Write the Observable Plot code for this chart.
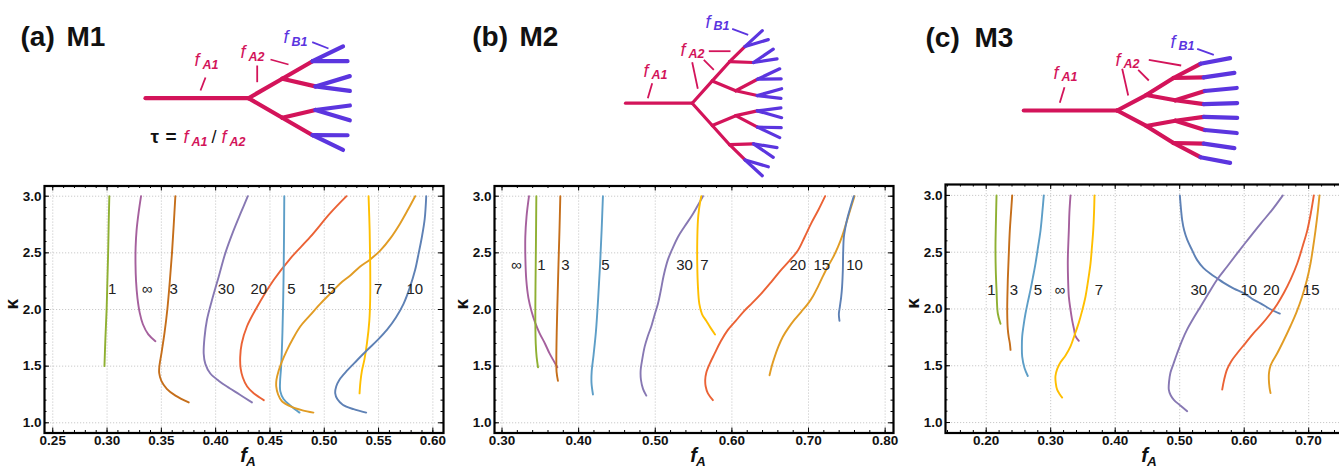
<!DOCTYPE html>
<html><head><meta charset="utf-8">
<script src="https://cdn.jsdelivr.net/npm/d3@7"></script>
<script src="https://cdn.jsdelivr.net/npm/@observablehq/plot@0.6"></script>
<style>
html,body{margin:0;padding:0;background:#fff;}
#root{position:relative;width:1339px;height:471px;overflow:hidden;font-family:"Liberation Sans",Arial,sans-serif;}
#root > div{position:absolute;}
#root svg{max-width:none !important;}
</style></head><body><div id="root"></div>
<script>
// ---------- data: tau values and colours ----------
const tauKeys = ["1","3","5","7","10","15","20","30","∞"];
const tauColors = ["#8FB032","#C56E1A","#5D9EC7","#FFBF00","#5E81B5","#E19C24","#EB6235","#8778B3","#A5609D"];

// ---------- M1 curves: [fA, kappa] ----------
const M1_t1 = [[0.3021,3.0],[0.3015,2.75],[0.3010,2.5],[0.3003,2.25],[0.2996,2.0],[0.2985,1.75],[0.2976,1.5]];
const M1_tInf = [[0.3313,3.0],[0.3290,2.85],[0.3272,2.7],[0.3263,2.55],[0.3262,2.4],[0.3267,2.25],[0.3280,2.1],[0.3301,1.97],[0.3330,1.87],[0.3380,1.78],[0.3445,1.72]];
const M1_t3 = [[0.3629,3.0],[0.3614,2.75],[0.3598,2.5],[0.3578,2.25],[0.3555,2.0],[0.3530,1.8],[0.3502,1.62],[0.3482,1.5],[0.3480,1.44],[0.3500,1.37],[0.3550,1.30],[0.3630,1.24],[0.3752,1.18]];
const M1_t30 = [[0.4296,3.0],[0.4230,2.85],[0.4166,2.7],[0.4090,2.5],[0.4028,2.29],[0.3965,2.08],[0.3920,1.91],[0.3897,1.75],[0.3890,1.61],[0.3905,1.52],[0.3951,1.435],[0.4030,1.37],[0.4104,1.32],[0.4220,1.25],[0.4334,1.18]];
const M1_t20 = [[0.5205,3.0],[0.5055,2.85],[0.4871,2.64],[0.4687,2.45],[0.4534,2.26],[0.4380,2.02],[0.4288,1.85],[0.4240,1.70],[0.4226,1.58],[0.4230,1.48],[0.4250,1.40],[0.4290,1.32],[0.4350,1.26],[0.4443,1.20]];
const M1_t5 = [[0.4632,3.0],[0.4629,2.6],[0.4624,2.2],[0.4615,1.8],[0.4603,1.5],[0.4593,1.36],[0.4595,1.28],[0.4625,1.21],[0.4690,1.15],[0.4772,1.09]];
const M1_t15 = [[0.5837,3.0],[0.5770,2.88],[0.5699,2.76],[0.5610,2.63],[0.5515,2.52],[0.5420,2.44],[0.5331,2.38],[0.5240,2.30],[0.5147,2.23],[0.5055,2.14],[0.4963,2.05],[0.4870,1.95],[0.4779,1.85],[0.4710,1.74],[0.4656,1.64],[0.4610,1.54],[0.4580,1.46],[0.4560,1.38],[0.4558,1.32],[0.4575,1.25],[0.4610,1.19],[0.4700,1.14],[0.4800,1.11],[0.4900,1.09]];
const M1_t7 = [[0.5408,3.0],[0.5418,2.7],[0.5423,2.4],[0.5423,2.1],[0.5415,1.9],[0.5393,1.70],[0.5370,1.56],[0.5347,1.46],[0.5333,1.36],[0.5325,1.26]];
const M1_t10 = [[0.5939,3.0],[0.5925,2.8],[0.5899,2.64],[0.5870,2.5],[0.5837,2.35],[0.5790,2.2],[0.5730,2.05],[0.5660,1.93],[0.5577,1.82],[0.5490,1.73],[0.5393,1.64],[0.5300,1.55],[0.5209,1.46],[0.5140,1.38],[0.5110,1.32],[0.5101,1.26],[0.5120,1.21],[0.5170,1.16],[0.5270,1.12],[0.5386,1.09]];
const M1_labels = ["1","∞","3","30","20","5","15","7","10"];
const M1_labelX = [0.3047,0.3369,0.3614,0.4097,0.4397,0.4698,0.5027,0.5496,0.5833];
const M1_labelK = 2.176;

// ---------- M2 curves ----------
const M2_tInf = [[0.3352,3.0],[0.3320,2.82],[0.3304,2.64],[0.3305,2.45],[0.3317,2.26],[0.3345,2.10],[0.3383,1.99],[0.3435,1.88],[0.3491,1.79],[0.3560,1.70],[0.3622,1.61],[0.3680,1.54],[0.3722,1.49]];
const M2_t1 = [[0.3448,3.0],[0.3443,2.6],[0.3437,2.2],[0.3435,1.9],[0.3440,1.7],[0.3452,1.58],[0.3470,1.49]];
const M2_t3 = [[0.3761,3.0],[0.3750,2.7],[0.3737,2.4],[0.3725,2.1],[0.3714,1.8],[0.3709,1.55],[0.3712,1.45],[0.3730,1.37]];
const M2_t5 = [[0.4317,3.0],[0.4300,2.7],[0.4280,2.4],[0.4255,2.1],[0.4225,1.8],[0.4195,1.6],[0.4170,1.45],[0.4168,1.35],[0.4187,1.25]];
const M2_t30 = [[0.5622,3.0],[0.5540,2.9],[0.5470,2.82],[0.5380,2.73],[0.5296,2.64],[0.5220,2.53],[0.5165,2.44],[0.5110,2.30],[0.5070,2.16],[0.5035,2.05],[0.4990,1.95],[0.4948,1.85],[0.4900,1.76],[0.4861,1.67],[0.4830,1.56],[0.4809,1.46],[0.4813,1.38],[0.4840,1.30],[0.4883,1.24]];
const M2_t7 = [[0.5600,3.0],[0.5570,2.88],[0.5557,2.79],[0.5548,2.6],[0.5548,2.4],[0.5557,2.2],[0.5575,2.05],[0.5610,1.96],[0.5665,1.90],[0.5720,1.84],[0.5780,1.78]];
const M2_t20 = [[0.7217,3.0],[0.7130,2.88],[0.7035,2.76],[0.6950,2.64],[0.6861,2.52],[0.6750,2.43],[0.6643,2.35],[0.6510,2.24],[0.6383,2.14],[0.6270,2.06],[0.6165,1.99],[0.6050,1.90],[0.5948,1.82],[0.5855,1.72],[0.5774,1.61],[0.5710,1.52],[0.5665,1.44],[0.5652,1.38],[0.5658,1.32],[0.5687,1.26],[0.5752,1.20]];
const M2_t15 = [[0.7600,3.0],[0.7545,2.88],[0.7491,2.76],[0.7440,2.65],[0.7383,2.55],[0.7320,2.46],[0.7252,2.38],[0.7185,2.29],[0.7122,2.20],[0.7060,2.12],[0.6991,2.05],[0.6905,1.98],[0.6817,1.91],[0.6740,1.84],[0.6665,1.76],[0.6605,1.67],[0.6557,1.58],[0.6520,1.50],[0.6491,1.42]];
const M2_t10 = [[0.7591,3.0],[0.7550,2.91],[0.7513,2.82],[0.7480,2.72],[0.7461,2.64],[0.7452,2.5],[0.7448,2.35],[0.7438,2.2],[0.7426,2.11],[0.7410,2.03],[0.7396,1.96],[0.7404,1.90]];
const M2_labels = ["∞","1","3","5","30","7","20","15","10"];
const M2_labelX = [0.3187,0.3513,0.3826,0.4348,0.5383,0.5643,0.6861,0.7174,0.7600];
const M2_labelK = 2.388;

// ---------- M3 curves ----------
const M3_t1 = [[0.2160,3.0],[0.2150,2.75],[0.2144,2.55],[0.2148,2.35],[0.2160,2.17],[0.2180,1.96],[0.2222,1.87]];
const M3_t3 = [[0.2403,3.0],[0.2385,2.85],[0.2366,2.69],[0.2348,2.45],[0.2335,2.26],[0.2328,2.1],[0.2326,1.96],[0.2335,1.82],[0.2350,1.75],[0.2366,1.70],[0.2377,1.64]];
const M3_t5 = [[0.2893,3.0],[0.2870,2.85],[0.2842,2.69],[0.2805,2.55],[0.2764,2.40],[0.2725,2.28],[0.2687,2.17],[0.2645,2.06],[0.2609,1.96],[0.2578,1.85],[0.2558,1.76],[0.2553,1.66],[0.2558,1.58],[0.2594,1.48],[0.2645,1.41]];
const M3_tInf = [[0.3307,3.0],[0.3290,2.85],[0.3281,2.69],[0.3268,2.5],[0.3265,2.40],[0.3270,2.25],[0.3281,2.11],[0.3305,2.0],[0.3333,1.90],[0.3362,1.82],[0.3384,1.76],[0.3436,1.72]];
const M3_t7 = [[0.3679,3.0],[0.3672,2.85],[0.3659,2.69],[0.3640,2.55],[0.3617,2.40],[0.3580,2.25],[0.3540,2.11],[0.3490,1.99],[0.3436,1.88],[0.3370,1.77],[0.3307,1.67],[0.3230,1.59],[0.3152,1.53],[0.3100,1.47],[0.3074,1.41],[0.3078,1.35],[0.3100,1.29],[0.3140,1.25],[0.3178,1.22]];
const M3_t10 = [[0.5002,3.0],[0.5020,2.88],[0.5039,2.78],[0.5070,2.69],[0.5116,2.61],[0.5190,2.52],[0.5271,2.43],[0.5370,2.36],[0.5478,2.31],[0.5580,2.27],[0.5684,2.23],[0.5840,2.18],[0.5994,2.14],[0.6120,2.09],[0.6253,2.05],[0.6400,2.00],[0.6552,1.96]];
const M3_t30 = [[0.6599,3.0],[0.6430,2.87],[0.6253,2.75],[0.6070,2.62],[0.5891,2.49],[0.5730,2.37],[0.5581,2.26],[0.5450,2.14],[0.5322,2.02],[0.5215,1.92],[0.5116,1.82],[0.5035,1.72],[0.4961,1.61],[0.4905,1.52],[0.4857,1.44],[0.4835,1.36],[0.4831,1.29],[0.4860,1.24],[0.4909,1.20],[0.5010,1.15],[0.5116,1.10]];
const M3_t20 = [[0.7079,3.0],[0.7035,2.85],[0.6977,2.69],[0.6905,2.55],[0.6822,2.40],[0.6720,2.26],[0.6614,2.14],[0.6510,2.04],[0.6408,1.96],[0.6280,1.87],[0.6149,1.79],[0.6020,1.70],[0.5891,1.61],[0.5800,1.54],[0.5736,1.47],[0.5690,1.38],[0.5659,1.29]];
const M3_t15 = [[0.7167,3.0],[0.7140,2.85],[0.7105,2.69],[0.7070,2.55],[0.7028,2.40],[0.6970,2.25],[0.6899,2.11],[0.6810,1.97],[0.6718,1.85],[0.6610,1.72],[0.6512,1.61],[0.6440,1.54],[0.6408,1.50],[0.6385,1.44],[0.6382,1.38],[0.6392,1.31],[0.6408,1.26]];
const M3_labels = ["1","3","5","∞","7","30","10","20","15"];
const M3_labelX = [0.2082,0.2428,0.2800,0.3141,0.3746,0.5296,0.6071,0.6419,0.7039];
const M3_labelK = 2.167;

// ---------- tick values ----------
const M1_xTicks = [0.25,0.30,0.35,0.40,0.45,0.50,0.55,0.60];
const M2_xTicks = [0.30,0.40,0.50,0.60,0.70,0.80];
const M3_xTicks = [0.20,0.30,0.40,0.50,0.60,0.70];
const yTicks = [1.0,1.5,2.0,2.5,3.0];

// ---------- rendering ----------
const RED = "#D3145A", BLUE = "#5B35DF";
const FONT = "'Liberation Sans', Arial, sans-serif";
const root = document.getElementById("root");
const colorOf = k => tauColors[tauKeys.indexOf(k)];
const H = 301;

function chart(cfg) {
  const fw = cfg.width - cfg.ml - cfg.mr, fh = H - cfg.mt - cfg.mb;
  const xMinor = d3.range(Math.ceil(cfg.xd[0] / cfg.minor - 1e-6), Math.floor(cfg.xd[1] / cfg.minor + 1e-6) + 1).map(i => +(i * cfg.minor).toFixed(4));
  const yMinor = d3.range(10, 31).map(i => i / 10);
  const grid = {stroke: "#c4c4c4", strokeWidth: 0.9, strokeDasharray: "1.2,1.8"};
  const marks = [
    Plot.ruleX(cfg.xTicks, {x: d => d, ...grid}),
    Plot.ruleY(yTicks, {y: d => d, ...grid}),
  ];
  for (const s of cfg.series) {
    marks.push(Plot.line(s.pts, {x: d => d[0], y: d => d[1], stroke: colorOf(s.tau), strokeWidth: 1.9, curve: "catmull-rom"}));
  }
  marks.push(Plot.text(cfg.labels, {x: (d, i) => cfg.labelX[i], y: () => cfg.labelK, text: d => d, fontSize: 15, fill: "#222", fontFamily: FONT}));
  const tk = {stroke: "black", strokeWidth: 1};
  marks.push(
    Plot.ruleX(xMinor, {x: d => d, insetTop: fh - 2.5, ...tk}),
    Plot.ruleX(xMinor, {x: d => d, insetBottom: fh - 2.5, ...tk}),
    Plot.ruleX(cfg.xTicks, {x: d => d, insetTop: fh - 5, ...tk}),
    Plot.ruleX(cfg.xTicks, {x: d => d, insetBottom: fh - 5, ...tk}),
    Plot.ruleY(yMinor, {y: d => d, insetRight: fw - 2.5, ...tk}),
    Plot.ruleY(yMinor, {y: d => d, insetLeft: fw - 2.5, ...tk}),
    Plot.ruleY(yTicks, {y: d => d, insetRight: fw - 5, ...tk}),
    Plot.ruleY(yTicks, {y: d => d, insetLeft: fw - 5, ...tk}),
    Plot.frame({stroke: "black", strokeWidth: 2.2}),
    Plot.text(cfg.xTicks, {x: d => d, frameAnchor: "bottom", dy: 11.5, text: d => d.toFixed(2), fontSize: 13.5, fontWeight: "bold", fill: "#111", fontFamily: FONT}),
    Plot.text(yTicks, {y: d => d, frameAnchor: "left", dx: -3, textAnchor: "end", text: d => d.toFixed(1), fontSize: 13.5, fontWeight: "bold", fill: "#111", fontFamily: FONT}),
    Plot.text(["κ"], {frameAnchor: "left", dx: -33, rotate: -90, fontSize: 19, fontWeight: "bold", fill: "#111", fontFamily: FONT}),
    Plot.text(["f"], {frameAnchor: "bottom", dx: 3, dy: 28.5, textAnchor: "end", fontSize: 20, fontWeight: "bold", fontStyle: "italic", fill: "#111", fontFamily: FONT}),
    Plot.text(["A"], {frameAnchor: "bottom", dx: 2, dy: 32.5, textAnchor: "start", fontSize: 13.5, fontWeight: "bold", fontStyle: "italic", fill: "#111", fontFamily: FONT})
  );
  const svg = Plot.plot({
    width: cfg.width, height: H,
    marginTop: cfg.mt, marginBottom: cfg.mb, marginLeft: cfg.ml, marginRight: cfg.mr,
    x: {domain: cfg.xd, axis: null},
    y: {domain: cfg.yd, axis: null},
    style: {background: "transparent", fontFamily: FONT, overflow: "visible", maxWidth: "none"},
    marks
  });
  const div = document.createElement("div");
  div.style.left = cfg.left + "px"; div.style.top = "170px";
  div.style.width = cfg.width + "px"; div.style.height = H + "px";
  div.appendChild(svg);
  root.appendChild(div);
}

chart({left: 0, width: 450, ml: 44, mr: 7, mt: 15.5, mb: 38.5, xd: [0.2424, 0.6098], yd: [0.91, 3.09], minor: 0.01,
  xTicks: M1_xTicks, labels: M1_labels, labelX: M1_labelX, labelK: M1_labelK,
  series: [{tau:"1",pts:M1_t1},{tau:"∞",pts:M1_tInf},{tau:"3",pts:M1_t3},{tau:"30",pts:M1_t30},{tau:"20",pts:M1_t20},{tau:"5",pts:M1_t5},{tau:"15",pts:M1_t15},{tau:"7",pts:M1_t7},{tau:"10",pts:M1_t10}]});
chart({left: 450, width: 450, ml: 44, mr: 7, mt: 15.5, mb: 38.5, xd: [0.2902, 0.8109], yd: [0.91, 3.09], minor: 0.02,
  xTicks: M2_xTicks, labels: M2_labels, labelX: M2_labelX, labelK: M2_labelK,
  series: [{tau:"∞",pts:M2_tInf},{tau:"1",pts:M2_t1},{tau:"3",pts:M2_t3},{tau:"5",pts:M2_t5},{tau:"30",pts:M2_t30},{tau:"7",pts:M2_t7},{tau:"20",pts:M2_t20},{tau:"15",pts:M2_t15},{tau:"10",pts:M2_t10}]});
chart({left: 900, width: 450, ml: 45, mr: 6, mt: 14, mb: 38.5, xd: [0.1369, 0.7555], yd: [0.908, 3.096], minor: 0.02,
  xTicks: M3_xTicks, labels: M3_labels, labelX: M3_labelX, labelK: M3_labelK,
  series: [{tau:"1",pts:M3_t1},{tau:"3",pts:M3_t3},{tau:"5",pts:M3_t5},{tau:"∞",pts:M3_tInf},{tau:"7",pts:M3_t7},{tau:"10",pts:M3_t10},{tau:"30",pts:M3_t30},{tau:"20",pts:M3_t20},{tau:"15",pts:M3_t15}]});

// ---------- header diagrams (pixel-space, identity scales) ----------
function linspace(a, b, n) { return n === 1 ? [a] : d3.range(n).map(i => a + (b - a) * i / (n - 1)); }
function buildTree(cfg) {
  const segs = [{x1: cfg.x0, y1: cfg.cy, x2: cfg.cx, y2: cfg.cy, blue: false}];
  let prev = [{x: cfg.cx, y: cfg.cy}];
  for (const g of cfg.gens) {
    const nodes = linspace(g.A, -g.A, g.n).map(a => {
      const r = g.R + g.k * Math.abs(a), t = a * Math.PI / 180;
      return {x: cfg.cx + r * Math.cos(t), y: cfg.cy - r * Math.sin(t)};
    });
    nodes.forEach((nd, j) => {
      const p = prev[Math.floor(j * prev.length / nodes.length)];
      segs.push({x1: p.x, y1: p.y, x2: nd.x, y2: nd.y, blue: !!g.blue});
    });
    prev = nodes;
  }
  return segs;
}
const trees = [
  {x0: 145, cx: 248, cy: 97.7, w: 4.2, gens: [{n:2,A:30,R:30,k:0.3},{n:4,A:30,R:65,k:0.3},{n:8,A:28.7,R:100.6,k:0.25,blue:true}]},
  {x0: 625, cx: 691.7, cy: 102.7, w: 3.2, gens: [{n:2,A:48,R:15.6,k:0.3},{n:4,A:48,R:40,k:0.33},{n:8,A:47,R:63.5,k:0.3},{n:16,A:46,R:88,k:0.28,blue:true}]},
  {x0: 1023.3, cx: 1116.7, cy: 110, w: 4.2, gens: [{n:2,A:28,R:24.5,k:0.3},{n:4,A:30,R:56,k:0.3},{n:8,A:29.3,R:85.5,k:0.34},{n:8,A:24.9,R:119.5,k:0.2,blue:true}]}
];
const leaders = [
  {c: RED, s: [205,77,200,90]}, {c: RED, s: [256.7,65,256.7,81.7]}, {c: RED, s: [270,59,288,64]}, {c: BLUE, s: [311.7,41.7,328,48]},
  {c: RED, s: [651.7,82.7,647.3,97.7]}, {c: RED, s: [691.7,61.7,697.3,88.3]}, {c: RED, s: [703.3,59.3,713.3,69.3]}, {c: RED, s: [708.3,50.7,730,50.7]}, {c: BLUE, s: [731.7,28.3,747.7,34.3]},
  {c: RED, s: [1064,86.7,1059.3,102.3]}, {c: RED, s: [1121.7,68.3,1127.7,95]}, {c: RED, s: [1137.7,69.3,1148.3,80]}, {c: RED, s: [1148.3,59.3,1180.7,65]}, {c: BLUE, s: [1196.7,48.3,1213.3,54.3]}
];
// [x, baseline, text, colour, kind]
const annos = [
  [20,45,"(a)","#111","title"],[66,45,"M1","#111","title"],
  [471.7,45,"(b)","#111","title"],[519,45,"M2","#111","title"],
  [925,46.5,"(c)","#111","title"],[974,46.5,"M3","#111","title"],
  [194,65,"f",RED,"f"],[202,68,"A1",RED,"sub"],
  [240,57,"f",RED,"f"],[248,60,"A2",RED,"sub"],
  [283,42,"f",BLUE,"f"],[291,45,"B1",BLUE,"sub"],
  [150,142,"τ","#111","op"],[165,142,"=","#111","op"],
  [183,142,"f",RED,"f"],[191,145,"A1",RED,"sub"],
  [211,142,"/","#111","slash"],
  [221,142,"f",RED,"f"],[229,145,"A2",RED,"sub"],
  [643,76,"f",RED,"f"],[651,78,"A1",RED,"sub"],
  [680,55,"f",RED,"f"],[688,57,"A2",RED,"sub"],
  [705,27,"f",BLUE,"f"],[713,29,"B1",BLUE,"sub"],
  [1053,78,"f",RED,"f"],[1061,80,"A1",RED,"sub"],
  [1115,65,"f",RED,"f"],[1123,67,"A2",RED,"sub"],
  [1170,47,"f",BLUE,"f"],[1178,49,"B1",BLUE,"sub"]
];
const styles = {
  title: {fontSize: 28, fontWeight: "bold"},
  f: {fontSize: 18, fontStyle: "italic"},
  sub: {fontSize: 12.5, fontStyle: "italic", fontWeight: "bold"},
  op: {fontSize: 19, fontWeight: "bold"},
  slash: {fontSize: 18}
};
const dmarks = [];
for (const t of trees) {
  const segs = buildTree(t);
  dmarks.push(Plot.link(segs.filter(d => !d.blue), {x1: "x1", y1: "y1", x2: "x2", y2: "y2", stroke: RED, strokeWidth: t.w, strokeLinecap: "round"}));
  dmarks.push(Plot.link(segs.filter(d => d.blue), {x1: "x1", y1: "y1", x2: "x2", y2: "y2", stroke: BLUE, strokeWidth: t.w, strokeLinecap: "round"}));
}
for (const c of [RED, BLUE]) {
  dmarks.push(Plot.link(leaders.filter(d => d.c === c), {x1: d => d.s[0], y1: d => d.s[1], x2: d => d.s[2], y2: d => d.s[3], stroke: c, strokeWidth: 1.8}));
}
for (const a of annos) {
  const st = styles[a[4]];
  dmarks.push(Plot.text([a], {x: d => d[0], y: d => d[1] - 0.32 * st.fontSize, text: d => d[2], fill: a[3], textAnchor: "start", fontFamily: FONT, ...st}));
}
const dsvg = Plot.plot({
  width: 1339, height: 180, margin: 0,
  x: {type: "identity", axis: null}, y: {type: "identity", axis: null},
  style: {background: "transparent", fontFamily: FONT, overflow: "visible", maxWidth: "none"},
  marks: dmarks
});
const ddiv = document.createElement("div");
ddiv.style.left = "0px"; ddiv.style.top = "0px";
ddiv.appendChild(dsvg);
root.appendChild(ddiv);
</script></body></html>
